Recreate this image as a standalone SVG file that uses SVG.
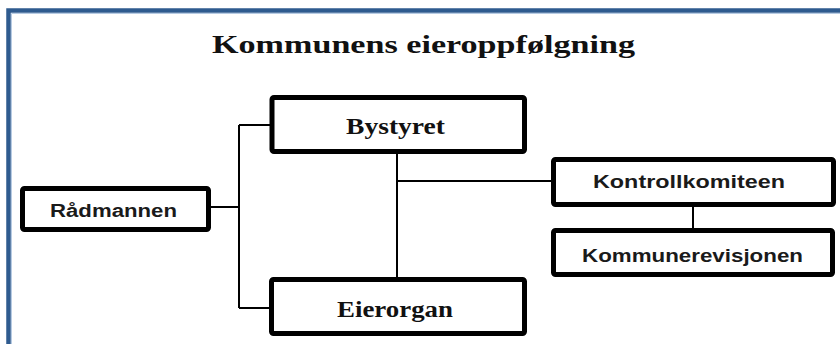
<svg xmlns="http://www.w3.org/2000/svg" width="840" height="344" viewBox="0 0 840 344">
  <style>
    .box { fill: #ffffff; stroke: #000000; stroke-width: 5; }
    .serif { font-family: "Liberation Serif", "Times New Roman", serif; font-weight: bold; fill: #111111; }
    .sans { font-family: "Liberation Sans", Arial, sans-serif; font-weight: bold; fill: #1a1a1a; }
    .conn { stroke: #000000; stroke-width: 2; fill: none; }
  </style>
  <rect x="0" y="0" width="840" height="344" fill="#ffffff"/>
  <g id="frame">
    <path d="M 8.5 350 L 8.5 10.5 L 850 10.5" fill="none" stroke="#2f5b8f" stroke-width="4.5"/>
    <path d="M 11.5 350 L 11.5 13.5 L 850 13.5" fill="none" stroke="#b7cbe3" stroke-width="1"/>
  </g>
  <g id="title">
    <text class="serif" x="212" y="53" font-size="26" textLength="423" lengthAdjust="spacingAndGlyphs">Kommunens eieroppfølgning</text>
  </g>
  <g id="connectors">
    <path class="conn" d="M 211 207 L 239 207"/>
    <path class="conn" d="M 239 125 L 239 308"/>
    <path class="conn" d="M 239 125 L 270 125"/>
    <path class="conn" d="M 239 308 L 270 308"/>
    <path class="conn" d="M 397 154 L 397 277"/>
    <path class="conn" d="M 397 181 L 551 181"/>
    <path class="conn" d="M 693 207 L 693 228" stroke-width="2.5"/>
  </g>
  <g id="node-radmannen">
    <rect class="box" x="22.5" y="188.5" width="186" height="41" rx="2"/>
    <text class="sans" x="50" y="217" font-size="18" textLength="127" lengthAdjust="spacingAndGlyphs">Rådmannen</text>
  </g>
  <g id="node-bystyret">
    <rect class="box" x="272" y="97.5" width="252.5" height="54" rx="2"/>
    <text class="serif" x="346" y="134" font-size="23" textLength="99" lengthAdjust="spacingAndGlyphs">Bystyret</text>
  </g>
  <g id="node-eierorgan">
    <rect class="box" x="271.5" y="279.5" width="253" height="54" rx="2"/>
    <text class="serif" x="337" y="317" font-size="23" textLength="116" lengthAdjust="spacingAndGlyphs">Eierorgan</text>
  </g>
  <g id="node-kontrollkomiteen">
    <rect class="box" x="553.5" y="159.5" width="280" height="45" rx="2"/>
    <text class="sans" x="593" y="188" font-size="18" textLength="192" lengthAdjust="spacingAndGlyphs">Kontrollkomiteen</text>
  </g>
  <g id="node-kommunerevisjonen">
    <rect class="box" x="553.5" y="230.5" width="279" height="44" rx="2"/>
    <text class="sans" x="582" y="262" font-size="18" textLength="221" lengthAdjust="spacingAndGlyphs">Kommunerevisjonen</text>
  </g>
</svg>
